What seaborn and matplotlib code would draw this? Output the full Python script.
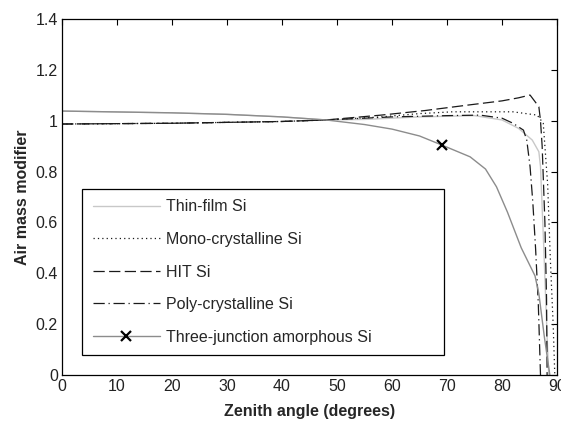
import matplotlib
matplotlib.use("Agg")
import matplotlib.pyplot as plt
import seaborn as sns
import numpy as np

# ---- data ----
thin_x = [0, 20, 30, 40, 48, 55, 65, 75, 80, 83, 85.5, 86.7, 87.0, 87.6, 88.2, 88.5]
thin_y = [1.038, 1.031, 1.025, 1.015, 1.003, 1.005, 1.015, 1.02, 1.003, 0.97, 0.924, 0.878, 0.82, 0.5, 0.15, 0.0]

mono_x = [0, 20, 40, 48, 58, 65, 71, 82, 86.4, 87.5, 88.3, 88.8, 89.3, 89.6]
mono_y = [0.987, 0.99, 0.997, 1.003, 1.015, 1.028, 1.035, 1.035, 1.022, 0.99, 0.75, 0.45, 0.2, 0.0]

hit_x = [0, 20, 40, 48, 58, 66, 74, 80, 83, 85.1, 86.7, 87.0, 87.3, 87.8, 88.1, 88.2]
hit_y = [0.987, 0.99, 0.997, 1.003, 1.022, 1.04, 1.062, 1.078, 1.09, 1.101, 1.055, 1.0, 0.9, 0.6, 0.3, 0.0]

poly_x = [0, 20, 40, 48, 60, 70, 76, 80, 82, 83.9, 84.5, 85.1, 85.6, 86.1, 86.6, 87.0]
poly_y = [0.987, 0.99, 0.997, 1.003, 1.015, 1.02, 1.022, 1.01, 0.99, 0.963, 0.924, 0.82, 0.68, 0.5, 0.28, 0.0]

tj_x = [0, 20, 30, 40, 48, 55, 60, 65, 69.1, 74.2, 77, 79, 81, 83.5, 86, 86.7, 87.7, 88.7]
tj_y = [1.038, 1.031, 1.025, 1.015, 1.003, 0.985, 0.967, 0.94, 0.904, 0.858, 0.81, 0.74, 0.64, 0.5, 0.39, 0.32, 0.15, 0.0]
tj_marker_index = 8

labels = ["Thin-film Si", "Mono-crystalline Si", "HIT Si", "Poly-crystalline Si",
          "Three-junction amorphous Si"]
x_ticks = [0, 10, 20, 30, 40, 50, 60, 70, 80, 90]
y_ticks = [0, 0.2, 0.4, 0.6, 0.8, 1.0, 1.2, 1.4]
y_tick_labels = ["0", "0.2", "0.4", "0.6", "0.8", "1", "1.2", "1.4"]

sns.set_style("white")
plt.rcParams["font.family"] = ["Liberation Sans", "DejaVu Sans"]

fig = plt.figure(figsize=(5.61, 4.21), dpi=100)
ax = fig.add_axes([62 / 561, 46 / 421, 495 / 561, 356 / 421])

dark = "#1a1a1a"
sns.lineplot(x=thin_x, y=thin_y, ax=ax, color="#c8c8c8", lw=1.0, label=labels[0],
             sort=False, estimator=None)
sns.lineplot(x=mono_x, y=mono_y, ax=ax, color=dark, lw=0.9, label=labels[1],
             sort=False, estimator=None, linestyle=(0, (1, 2.5)))
sns.lineplot(x=hit_x, y=hit_y, ax=ax, color=dark, lw=0.9, label=labels[2],
             sort=False, estimator=None, linestyle=(0, (9, 3.5)))
sns.lineplot(x=poly_x, y=poly_y, ax=ax, color=dark, lw=0.9, label=labels[3],
             sort=False, estimator=None, linestyle=(0, (9, 3, 1, 3)))
sns.lineplot(x=tj_x, y=tj_y, ax=ax, color="#8c8c8c", lw=1.0, label=labels[4],
             sort=False, estimator=None, marker="x", markersize=6.5,
             markeredgecolor="black", markeredgewidth=1.6,
             markevery=[tj_marker_index])

ax.set_xlim(0, 90)
ax.set_ylim(0, 1.4)
ax.set_xticks(x_ticks)
ax.set_xticklabels([str(t) for t in x_ticks])
ax.set_yticks(y_ticks)
ax.set_yticklabels(y_tick_labels)
ax.tick_params(direction="in", length=4.5, width=0.8, top=True, right=True,
               labelsize=11.5, colors="black", pad=3)
ax.tick_params(axis="both", labelcolor="#222222")
for s in ax.spines.values():
    s.set_visible(True)
    s.set_color("black")
    s.set_linewidth(0.9)

ax.set_xlabel("Zenith angle (degrees)", fontsize=11.5, fontweight="bold", labelpad=7)
ax.set_ylabel("Air mass modifier", fontsize=11.5, fontweight="bold", labelpad=4)

leg = ax.legend(loc="upper left", bbox_to_anchor=(0.041, 0.5225, 0.731, 0.0),
                mode="expand", fontsize=11.5,
                frameon=True, fancybox=False, edgecolor="black", framealpha=1,
                handlelength=4.2, handletextpad=0.4, labelspacing=1.1,
                borderpad=0.65, borderaxespad=0, numpoints=1)
leg.get_frame().set_linewidth(0.9)

fig.savefig("out.png", dpi=100)
